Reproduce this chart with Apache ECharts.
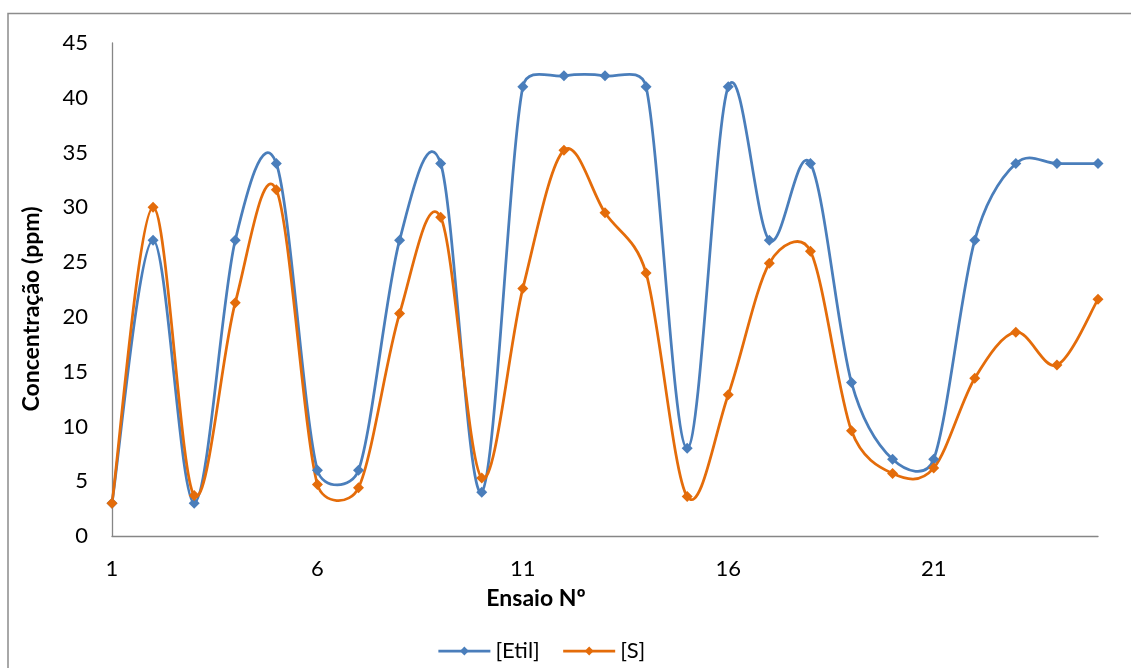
<!DOCTYPE html>
<html>
<head>
<meta charset="utf-8">
<script src="https://cdn.jsdelivr.net/npm/echarts@6/dist/echarts.min.js"></script>
<style>
html,body{margin:0;padding:0;background:#fff;}
#chart{width:1131px;height:668px;}
</style>
</head>
<body>
<div id="chart"></div>
<script>
const categories = ['1','2','3','4','5','6','7','8','9','10','11','12','13','14','15','16','17','18','19','20','21','22','23','24','25'];
const etil = [3, 27, 3, 27, 34, 6, 6, 27, 34, 4, 41, 42, 42, 41, 8, 41, 27, 34, 14, 7, 7, 27, 34, 34, 34];
const sVals = [3, 30, 3.7, 21.3, 31.6, 4.7, 4.4, 20.3, 29.1, 5.3, 22.6, 35.2, 29.5, 24, 3.6, 12.9, 24.9, 26, 9.6, 5.7, 6.2, 14.4, 18.6, 15.6, 21.6];
const seriesNames = ['[Etil]', '[S]'];
const yTitle = 'Concentração (ppm)';
const xTitle = 'Ensaio Nº';

const FONT = 'Lato, "Open Sans", sans-serif';
const BLUE = '#4A7EBB';
const ORANGE = '#E46C0A';
const AXIS = '#868686';
const LW = 2.75;

const chart = echarts.init(document.getElementById('chart'), null, {renderer: 'canvas'});

function capVec(vx, vy, maxLen) {
  const l = Math.sqrt(vx * vx + vy * vy);
  if (l > maxLen && l > 0) { const s = maxLen / l; return [vx * s, vy * s]; }
  return [vx, vy];
}
// Excel-like smoothed curve: cubic Bezier per segment, tangents (next-prev)/6, capped at half the segment length
function curveSeries(name, vals, color) {
  return {
    name: name, type: 'custom', z: 1, silent: true, animation: false,
    data: vals.map((v, i) => [i, v]),
    encode: {x: 0, y: 1},
    renderItem: function (params, api) {
      const i = params.dataIndex;
      const n = vals.length;
      if (i >= n - 1) return null;
      const P = k => { const kk = Math.max(0, Math.min(n - 1, k)); return api.coord([kk, vals[kk]]); };
      const p0 = P(i - 1), p1 = P(i), p2 = P(i + 1), p3 = P(i + 2);
      const L = Math.hypot(p2[0] - p1[0], p2[1] - p1[1]);
      const v1 = capVec((p2[0] - p0[0]) / 6, (p2[1] - p0[1]) / 6, L / 2);
      const v2 = capVec((p3[0] - p1[0]) / 6, (p3[1] - p1[1]) / 6, L / 2);
      return {
        type: 'bezierCurve',
        shape: {
          x1: p1[0], y1: p1[1],
          cpx1: p1[0] + v1[0], cpy1: p1[1] + v1[1],
          cpx2: p2[0] - v2[0], cpy2: p2[1] - v2[1],
          x2: p2[0], y2: p2[1]
        },
        style: {stroke: color, lineWidth: LW, fill: null, lineCap: 'round'}
      };
    }
  };
}
function markerSeries(name, vals, color, z) {
  return {
    name: name, type: 'line', data: vals, z: z,
    symbol: 'diamond', symbolSize: 11, showAllSymbol: true,
    lineStyle: {color: color, width: 0},
    itemStyle: {color: color},
    emphasis: {disabled: true},
    animation: false
  };
}
chart.setOption({
  animation: false,
  backgroundColor: '#fff',
  grid: {left: 112, right: 33, top: 43, bottom: 132, containLabel: false},
  xAxis: {
    type: 'category', data: categories, boundaryGap: false,
    axisLine: {show: true, lineStyle: {color: AXIS, width: 1.3}},
    axisTick: {show: false},
    axisLabel: {interval: 4, color: '#000', fontFamily: FONT, fontSize: 22, margin: 22},
    splitLine: {show: false}
  },
  yAxis: {
    type: 'value', min: 0, max: 45, interval: 5,
    axisLine: {show: true, lineStyle: {color: AXIS, width: 1.3}},
    axisTick: {show: false},
    axisLabel: {color: '#000', fontFamily: FONT, fontSize: 22, margin: 24},
    splitLine: {show: false}
  },
  legend: {
    data: seriesNames, left: 437, top: 640, padding: 0,
    itemWidth: 52, itemHeight: 11, itemGap: 22,
    lineStyle: {width: LW},
    textStyle: {color: '#000', fontFamily: FONT, fontSize: 22}
  },
  graphic: [
    {type: 'polyline', shape: {points: [[8, 668], [8, 13.5], [1131, 13.5]]},
     style: {stroke: '#8c8c8c', lineWidth: 1.5, fill: null}, silent: true},
    {type: 'text', style: {text: xTitle, x: 536, y: 599, align: 'center', verticalAlign: 'middle',
      font: 'bold 23px ' + FONT, fill: '#000'}, silent: true},
    {type: 'text', x: 32, y: 309, rotation: Math.PI / 2,
     style: {text: yTitle, x: 0, y: 0, align: 'center', verticalAlign: 'middle',
      font: 'bold 23px ' + FONT, fill: '#000'}, silent: true}
  ],
  series: [
    curveSeries('etil-curve', etil, BLUE),
    markerSeries(seriesNames[0], etil, BLUE, 3),
    curveSeries('s-curve', sVals, ORANGE),
    markerSeries(seriesNames[1], sVals, ORANGE, 4)
  ]
});
</script>
</body>
</html>
